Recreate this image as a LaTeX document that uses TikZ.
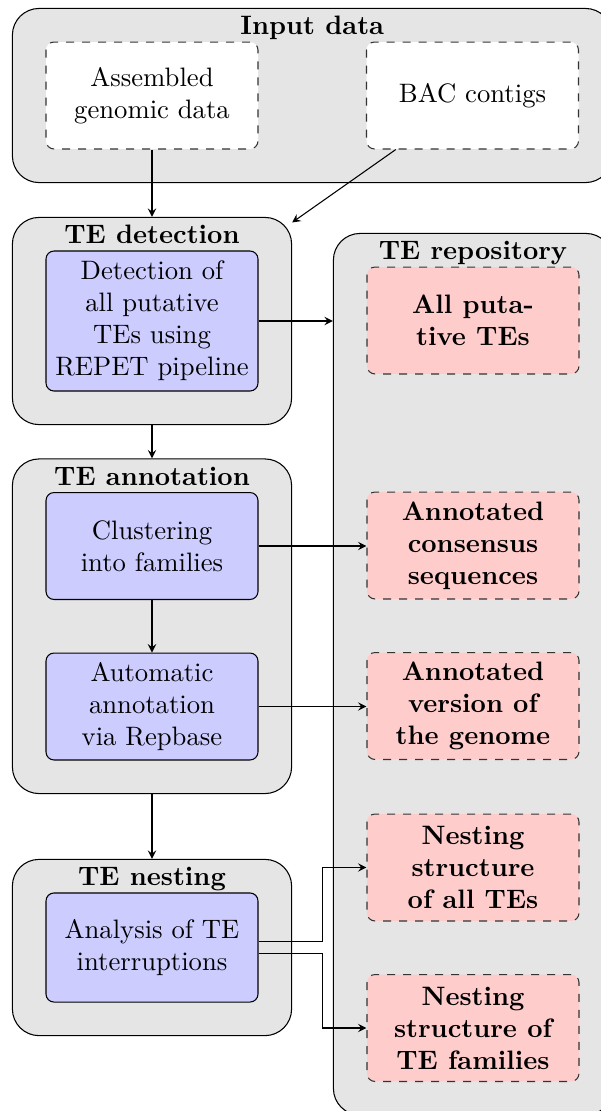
\documentclass[tikz,border=0pt]{standalone}
\usetikzlibrary{fit,backgrounds,arrows.meta}
\tikzset{
 x=0.375pt, y=-0.375pt,
 outer/.style={draw=black, fill=black!10, rounded corners=10pt, inner sep=12.4pt},
 title/.style={font=\bfseries, anchor=base, inner sep=0pt},
 inbox/.style={draw=black!80, dashed, fill=white, rounded corners=3pt, minimum width=79.5pt, minimum height=40.1pt, align=center},
 procbox/.style={draw=black, fill=blue!20, rounded corners=3pt, minimum width=79.5pt, minimum height=40.1pt, align=center},
 repobox/.style={draw=black!80, dashed, fill=red!20, rounded corners=3pt, minimum width=79.5pt, minimum height=40.1pt, align=center, font=\bfseries},
 arr/.style={-stealth},
}
\begin{document}
\begin{tikzpicture}
\useasboundingbox (0,0) rectangle (601,1111);
% inner nodes
\node[inbox] (asm) at (152,95.5) {Assembled\\genomic data};
\node[inbox] (bac) at (472.5,95.5) {BAC contigs};
\node[procbox, minimum height=52.5pt] (dettext) at (152,321) {Detection of\\all putative\\TEs using\\REPET pipeline};
\node[procbox] (clust) at (152,546) {Clustering\\into families};
\node[procbox] (auto) at (152,706.5) {Automatic\\annotation\\via Repbase};
\node[procbox, minimum height=40.9pt] (ana) at (152,947.5) {Analysis of TE\\interruptions};
\node[repobox] (allte) at (473,320.5) {All puta-\\tive TEs};
\node[repobox] (cons) at (473,545.5) {Annotated\\consensus\\sequences};
\node[repobox] (vers) at (473,706) {Annotated\\version of\\the genome};
\node[repobox] (nall) at (473,867.5) {Nesting\\structure\\of all TEs};
\node[repobox] (nfam) at (473,1028) {Nesting\\structure of\\TE families};
% group boxes
\begin{scope}[on background layer]
\node[outer, fit=(asm)(bac)] (input) {};
\node[outer, fit=(dettext)] (det) {};
\node[outer, fit=(clust)(auto)] (ann) {};
\node[outer, fit=(ana)] (nest) {};
\node[outer, fit=(allte)(nfam)] (repo) {};
\end{scope}
% titles
\node[title] (tinput) at ([yshift=-10.1pt]input.north) {Input data};
\node[title] (tdet) at ([yshift=-10.1pt]det.north) {TE detection};
\node[title] (tann) at ([yshift=-10.1pt]ann.north) {TE annotation};
\node[title] (tnest) at ([yshift=-10.1pt]nest.north) {TE nesting};
\node[title] (trepo) at ([yshift=-10.1pt]repo.north) {TE repository};
% connectors
\draw[arr] (asm.south) -- (asm.south |- det.north);
\draw[arr] (bac) -- (det);
\draw[arr] (dettext.east) -- (dettext.east -| repo.west);
\draw[arr] (det.south) -- (ann.north);
\draw[arr] (clust.south) -- (auto.north);
\draw[arr] (clust.east) -- (clust.east -| cons.west);
\draw[arr] (auto.east) -- (auto.east -| vers.west);
\draw[arr] (ann.south) -- (nest.north);
\draw[arr] ([yshift=2.25pt]ana.east) -- ++(24pt,0) |- (nall.west);
\draw[arr] ([yshift=-2.25pt]ana.east) -- ++(24pt,0) |- (nfam.west);
\end{tikzpicture}
\end{document}
